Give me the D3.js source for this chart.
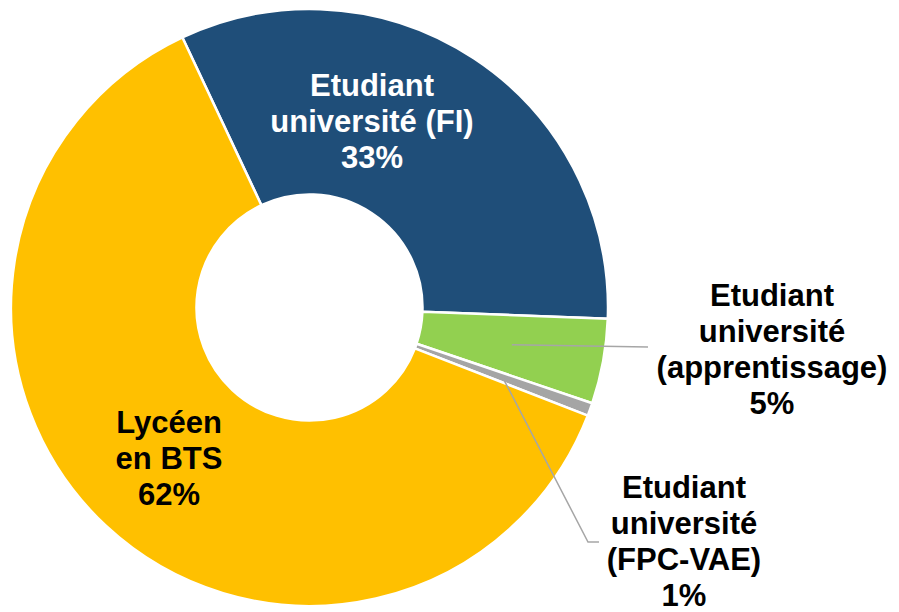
<!DOCTYPE html>
<html>
<head>
<meta charset="utf-8">
<script src="https://cdn.jsdelivr.net/npm/d3@7"></script>
<style>
  html, body { margin: 0; padding: 0; background: #fff; }
  svg { display: block; }
  text { font-family: "Liberation Sans", Arial, sans-serif; font-weight: bold; }
</style>
</head>
<body>
<div id="chart"></div>
<script>
// data
const categories = [
  ["Etudiant", "université (FI)"],
  ["Etudiant", "université", "(apprentissage)"],
  ["Etudiant", "université", "(FPC-VAE)"],
  ["Lycéen", "en BTS"]
];
const shares = [32.6, 4.6, 0.7, 62.1];
const colors = ["#1F4E79", "#92D050", "#A5A5A5", "#FFC000"];
const labelColors = ["#fff", "#000", "#000", "#000"];

// label placement (centre x, first baseline y) and leader line bends
const labelPos = [[372, 96], [772, 306], [684, 498], [169, 433]];
const leaders = [null, [[648, 347]], [[588, 542], [599, 542]], null];

const width = 899, height = 612;
const cx = 309.5, cy = 307.5;
const outerR = 298.5, innerR = 113;
const start = -25.2 * Math.PI / 180;

const svg = d3.select("#chart").append("svg")
  .attr("width", width)
  .attr("height", height);

const pie = d3.pie().sort(null).value(d => d)
  .startAngle(start).endAngle(start + 2 * Math.PI);
const arc = d3.arc().innerRadius(innerR).outerRadius(outerR);
const arcs = pie(shares);

const g = svg.append("g").attr("transform", `translate(${cx},${cy})`);

g.selectAll("path.slice")
  .data(arcs)
  .enter()
  .append("path")
  .attr("class", "slice")
  .attr("d", arc)
  .attr("fill", (d, i) => colors[i])
  .attr("stroke", "#fff")
  .attr("stroke-width", 2.5)
  .attr("stroke-linejoin", "round");

// leader lines from slice centroid
arcs.forEach((d, i) => {
  if (!leaders[i]) return;
  const c = arc.centroid(d);
  const pts = [[c[0] + cx, c[1] + cy]].concat(leaders[i]);
  svg.append("path")
    .attr("d", d3.line()(pts))
    .attr("fill", "none")
    .attr("stroke", "#A6A6A6")
    .attr("stroke-width", 1.5);
});

// labels
arcs.forEach((d, i) => {
  const lines = categories[i].concat([Math.round(d.data) + "%"]);
  const t = svg.append("text")
    .attr("x", labelPos[i][0])
    .attr("y", labelPos[i][1])
    .attr("text-anchor", "middle")
    .attr("font-size", 31)
    .attr("fill", labelColors[i]);
  lines.forEach((s, k) => {
    t.append("tspan")
      .attr("x", labelPos[i][0])
      .attr("dy", k === 0 ? 0 : 36)
      .text(s);
  });
});
</script>
</body>
</html>
